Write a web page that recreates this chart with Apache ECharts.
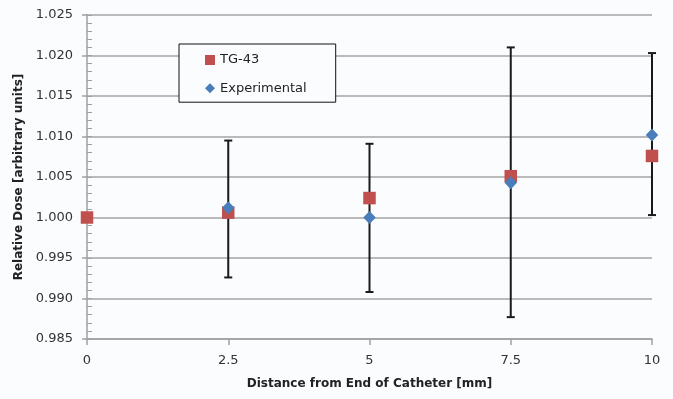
<!DOCTYPE html>
<html><head><meta charset="utf-8">
<script src="https://cdn.jsdelivr.net/npm/echarts@6/dist/echarts.min.js"></script>
<style>html,body{margin:0;padding:0;background:#fbfcfd}#c{width:673px;height:399px}</style>
</head><body><div id="c"></div>
<script>
var xTicks = [0, 2.5, 5, 7.5, 10];
var tg43X = [0, 2.5, 5, 7.5, 10];
var tg43Y = [1.0000, 1.0006, 1.0024, 1.0051, 1.0076];
var expX = [2.5, 5, 7.5, 10];
var expY = [1.0012, 1.0000, 1.0043, 1.0102];
var errLow = [0.9926, 0.9908, 0.9877, 1.0003];
var errHigh = [1.0095, 1.0091, 1.0210, 1.0203];

var tgData = tg43X.map(function(x,i){return [x, tg43Y[i]];});
var expData = expX.map(function(x,i){return [x, expY[i]];});
var errData = expX.map(function(x,i){return [x, errLow[i], errHigh[i]];});

var font = 'DejaVu Sans';
var chart = echarts.init(document.getElementById('c'), null, {renderer:'canvas'});
chart.setOption({
  backgroundColor: '#fbfcfd',
  animation: false,
  grid: {left: 87, right: 21, top: 15, bottom: 60},
  legend: {
    left: 179, top: 44, orient: 'vertical',
    padding: [9.5, 29, 7.5, 26], itemGap: 15.2,
    itemWidth: 10, itemHeight: 10,
    borderColor: '#111', borderWidth: 1, backgroundColor: '#fbfcfd',
    textStyle: {fontFamily: font, fontSize: 13, color: '#222'},
    itemStyle: {opacity: 1},
    data: [{name: 'TG-43', icon: 'rect'}, {name: 'Experimental', icon: 'diamond'}]
  },
  xAxis: {
    type: 'value', min: 0, max: 10, interval: 2.5,
    name: 'Distance from End of Catheter [mm]', nameLocation: 'middle', nameGap: 39,
    nameTextStyle: {fontFamily: font, fontSize: 12, fontWeight: 'bold', color: '#222'},
    axisLine: {show: true, lineStyle: {color: '#a0a0a0', width: 1.5}},
    axisTick: {show: true, length: 6, lineStyle: {color: '#a0a0a0', width: 1.5}},
    axisLabel: {margin: 15, fontFamily: font, fontSize: 13, color: '#333',
      formatter: function(v){ return String(v); }},
    splitLine: {show: false}
  },
  yAxis: [{
    type: 'value', min: 0.985, max: 1.025, interval: 0.005,
    name: 'Relative Dose [arbitrary units]', nameLocation: 'middle', nameGap: 60,
    nameTextStyle: {fontFamily: font, fontSize: 12, fontWeight: 'bold', color: '#222'},
    axisLine: {show: true, lineStyle: {color: '#a0a0a0', width: 1.5}},
    axisTick: {show: true, length: 5, lineStyle: {color: '#a0a0a0', width: 1.5}},
    axisLabel: {margin: 14, fontFamily: font, fontSize: 13, color: '#333',
      formatter: function(v){ return v.toFixed(3); }},
    splitLine: {show: true, lineStyle: {color: '#a5a5a5', width: 1.5}}
  }, {
    type: 'value', min: 0.985, max: 1.025, interval: 0.005, position: 'left',
    axisLine: {show: false},
    axisTick: {show: true, inside: true, length: 5, lineStyle: {color: '#a0a0a0', width: 1}},
    minorTick: {show: true, splitNumber: 5, length: 5, lineStyle: {color: '#a0a0a0', width: 1}},
    axisLabel: {show: false},
    splitLine: {show: false}
  }],
  series: [{
    type: 'custom', name: 'err', z: 1,
    renderItem: function(params, api){
      var x = api.value(0);
      var lo = api.coord([x, api.value(1)]);
      var hi = api.coord([x, api.value(2)]);
      var cw = 4;
      var st = {stroke: '#1a1a1a', lineWidth: 2};
      return {type: 'group', children: [
        {type: 'line', shape: {x1: lo[0], y1: lo[1], x2: hi[0], y2: hi[1]}, style: st},
        {type: 'line', shape: {x1: lo[0]-cw, y1: lo[1], x2: lo[0]+cw, y2: lo[1]}, style: st},
        {type: 'line', shape: {x1: hi[0]-cw, y1: hi[1], x2: hi[0]+cw, y2: hi[1]}, style: st}
      ]};
    },
    encode: {x: 0, y: [1, 2]},
    data: errData
  }, {
    type: 'scatter', name: 'TG-43', symbol: 'rect', symbolSize: 12.5, z: 3,
    itemStyle: {color: '#c0504d', opacity: 1},
    data: tgData
  }, {
    type: 'scatter', name: 'Experimental', symbol: 'diamond', symbolSize: [12.5, 13], z: 4,
    itemStyle: {color: '#4a7ebb', opacity: 1},
    data: expData
  }]
});
</script></body></html>
